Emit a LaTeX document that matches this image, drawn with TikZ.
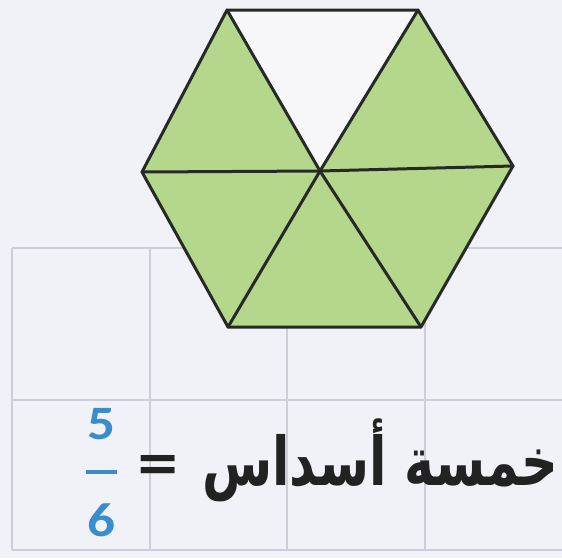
\documentclass[tikz,border=0pt]{standalone}
\usepackage{graphicx}
\usepackage{fontspec}
\TeXXeTstate=1
\newfontfamily\arabicfont[Script=Arabic]{DejaVu Sans}
\newfontfamily\numfont{Carlito}
\definecolor{bgcol}{HTML}{F1F2F7}
\definecolor{gridcol}{HTML}{CDCFD6}
\definecolor{greencol}{HTML}{B4D78C}
\definecolor{linecol}{HTML}{262A26}
\definecolor{bluecol}{HTML}{3A8CCB}
\definecolor{textcol}{HTML}{222222}
\begin{document}
\begin{tikzpicture}[x=1pt,y=-1pt,
  hexline/.style={draw=linecol,line width=3pt,line join=round,line cap=round},
  gridline/.style={draw=gridcol,line width=1.3pt},
  greenpart/.style={fill=greencol},
  arabictext/.style={text=textcol,inner sep=0pt,font=\arabicfont\bfseries\fontsize{48}{52}\selectfont},
  numtext/.style={text=bluecol,inner sep=0pt,font=\numfont\bfseries\fontsize{48}{52}\selectfont}]
\fill[bgcol] (0,0) rectangle (562,558);
\useasboundingbox (0,0) rectangle (562,558);
% table grid
\foreach \gx in {12,150,287,425} {\draw[gridline] (\gx,248) -- (\gx,550);}
\foreach \gy in {248,400,550} {\draw[gridline] (12,\gy) -- (562,\gy);}
% hexagon vertices
\coordinate (TL) at (227,10);
\coordinate (TR) at (418,10);
\coordinate (R) at (513,166);
\coordinate (BR) at (421,327);
\coordinate (BL) at (228,327);
\coordinate (L) at (142,172);
\coordinate (C) at (320,171);
% shaded parts
\fill[greenpart] (TR) -- (R) -- (C) -- cycle;
\fill[greenpart] (R) -- (BR) -- (C) -- cycle;
\fill[greenpart] (BR) -- (BL) -- (C) -- cycle;
\fill[greenpart] (BL) -- (L) -- (C) -- cycle;
\fill[greenpart] (L) -- (TL) -- (C) -- cycle;
\fill[white!40!bgcol] (TL) -- (TR) -- (C) -- cycle;
% lines
\draw[hexline] (TL) -- (TR) -- (R) -- (BR) -- (BL) -- (L) -- cycle;
\draw[hexline] (TL) -- (C) -- (BR);
\draw[hexline] (TR) -- (C) -- (BL);
\draw[hexline] (L) -- (C) -- (R);
% text
\node[arabictext,anchor=base east] (words) at (558,485) {\scalebox{1.06}[1.4]{\beginR خمسة أسداس\endR}};
\node[text=textcol,inner sep=0pt,font=\arabicfont\bfseries\fontsize{54}{58}\selectfont] (eq) at (158,468) {=};
\node[numtext] (num) at (101,424) {\scalebox{1.15}[1]{5}};
\node[numtext] (den) at (101,520) {\scalebox{1.15}[1]{6}};
\draw[draw=bluecol,line width=3.5pt] (86,472) -- (117,472);
\end{tikzpicture}
\end{document}
